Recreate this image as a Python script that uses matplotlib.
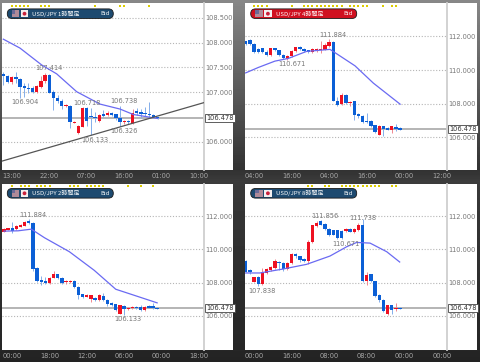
import numpy as np
import matplotlib
matplotlib.use('Agg')
import matplotlib.pyplot as plt
from matplotlib.patches import Rectangle, Circle, FancyBboxPatch

CJK = ['Noto Sans CJK JP', 'DejaVu Sans']

# 1 hour chart
h1_open = [107.37,107.33,107.20,107.30,107.27,107.13,107.09,107.08,107.00,107.11,107.22,107.35,107.00,106.89,106.82,106.72,106.73,106.38,106.17,106.30,106.68,106.51,106.49,106.41,106.55,106.53,106.59,106.55,106.47,106.39,106.41,106.38,106.62,106.61,106.59,106.57,106.53,106.49]
h1_close = [107.32,107.21,107.30,107.27,107.10,107.09,107.06,107.01,107.13,107.22,107.34,106.99,106.89,106.82,106.72,106.74,106.39,106.40,106.32,106.68,106.42,106.49,106.47,106.53,106.52,106.59,106.54,106.47,106.39,106.42,106.39,106.59,106.59,106.57,106.57,106.53,106.49,106.47]
h1_high = [107.40,107.35,107.32,107.40,107.28,107.18,107.18,107.13,107.15,107.33,107.39,107.37,107.05,106.95,106.86,106.76,106.74,106.41,106.34,106.70,106.70,106.68,106.61,106.55,106.64,106.63,106.61,106.57,106.72,106.44,106.44,106.66,106.68,106.66,106.71,106.80,106.57,106.50]
h1_low = [107.15,107.18,107.16,107.18,106.89,106.91,106.98,106.98,106.98,107.08,107.18,106.98,106.64,106.78,106.66,106.70,106.27,106.37,106.16,106.29,106.32,106.14,106.39,106.40,106.49,106.51,106.51,106.44,106.32,106.36,106.36,106.36,106.54,106.47,106.51,106.49,106.47,106.46]
h1_ma_x = [0,4,9.2,12.8,17.6,23.2,28,31.2,37]
h1_ma = [108.07,107.89,107.55,107.37,107.01,106.76,106.66,106.55,106.47]
h1_trend_x = [-0.3,48.16]
h1_trend = [105.61,106.79]
h1_dots = [2,3,4,5,6,9,10,11,22,28,29,35]
h1_yticks = [106,107,107.5,108,108.5]
h1_ylabels = ['106.000','107.000','107.500','108.000','108.500']
h1_xlabels = ['13:00','22:00','07:00','16:00','01:00','10:00']
h1_notes = ['107.414','106.904','106.718','106.738','106.326','106.133']
h1_note_x = [11,5.2,20,29,29,22]
h1_note_y = [107.49,106.80,106.79,106.82,106.22,106.03]

# 4 hour chart
h4_open = [111.70,111.80,111.54,111.27,111.29,111.07,110.87,111.29,111.17,110.91,110.65,110.83,111.11,111.38,111.25,111.17,111.07,111.11,111.17,111.21,111.44,111.66,108.17,107.97,108.54,108.01,108.13,107.37,107.27,106.99,106.99,106.70,106.14,106.66,106.56,106.44,106.62,106.54]
h4_close = [111.56,111.52,111.07,111.07,111.05,110.89,111.29,111.19,110.87,110.71,110.85,111.15,111.36,111.23,111.15,111.07,111.25,111.27,111.25,111.48,111.68,108.17,107.93,108.54,108.01,108.11,107.33,107.27,106.93,106.91,106.68,106.34,106.68,106.48,106.46,106.64,106.48,106.46]
h4_high = [111.75,111.84,111.58,111.31,111.33,111.21,111.33,111.33,111.21,110.97,110.91,111.21,111.40,111.42,111.29,111.21,111.29,111.34,111.70,111.60,111.84,111.72,108.42,108.66,108.58,108.15,108.17,107.43,107.33,107.43,107.03,106.74,106.72,106.68,106.62,106.68,106.81,106.58]
h4_low = [111.50,111.48,111.03,111.03,111.01,110.81,110.85,111.15,110.81,110.65,110.61,110.79,111.07,111.19,111.09,111.03,111.03,111.05,111.01,111.17,111.40,108.13,107.87,107.93,107.97,107.87,107.03,107.13,106.87,106.87,106.62,106.28,106.12,106.10,106.42,106.28,106.40,106.44]
h4_ma_x = [0,3,7,10.2,14.6,20.2,26.2,30.6,37]
h4_ma = [109.83,110.15,110.53,110.69,111.11,111.23,110.25,109.22,107.97]
h4_dots = [2,3,4,5,11,14,15,16,17,18,19,20,21,22,23,25,26,27,28,29,33,35,36]
h4_yticks = [106,108,110,112]
h4_ylabels = ['106.000','108.000','110.000','112.000']
h4_xlabels = ['04:00','16:00','04:00','16:00','00:00','12:00']
h4_notes = ['111.884','110.671']
h4_note_x = [21,11]
h4_note_y = [112.10,110.35]

# 2 hour chart
h2_open = [111.06,111.16,111.28,111.20,111.36,111.42,111.74,111.62,108.86,108.14,108.10,107.96,108.30,108.50,108.28,108.04,108.06,108.10,107.74,107.30,107.16,107.00,107.08,106.96,107.20,106.96,106.78,106.70,106.10,106.62,106.38,106.44,106.54,106.54,106.34,106.60,106.58,106.50]
h2_close = [111.24,111.26,111.10,111.42,111.48,111.66,111.60,108.82,108.10,108.06,108.00,108.30,108.52,108.28,107.98,108.10,108.10,107.72,107.28,107.12,107.28,107.24,106.96,107.24,106.94,106.72,106.64,106.32,106.64,106.38,106.50,106.54,106.44,106.34,106.56,106.48,106.48,106.42]
h2_high = [111.28,111.30,111.66,111.46,111.52,111.70,111.82,111.66,108.94,108.40,108.34,108.34,108.70,108.54,108.32,108.16,108.14,108.14,107.78,107.34,107.32,107.28,107.12,107.30,107.36,107.00,106.82,106.74,106.68,106.66,106.54,106.58,106.58,106.66,106.60,106.64,106.76,106.52]
h2_low = [111.04,111.14,111.00,111.16,111.32,111.38,111.56,108.70,108.04,107.86,107.94,107.92,108.26,108.24,107.94,107.90,108.00,107.68,107.00,107.08,107.12,106.86,106.92,106.92,106.90,106.60,106.60,106.26,106.08,106.06,106.34,106.40,106.40,106.30,106.30,106.44,106.42,106.40]
h2_ma_x = [0,3.4,6.6,9.8,15.8,21.8,27,31.4,37]
h2_ma = [111.10,111.12,111.22,110.70,109.86,108.74,107.60,107.24,106.78]
h2_dots = [2,4,5,6,8,9,10,11,16,17,18,20,21,22,23,24,30,33,36]
h2_yticks = [106,108,110,112]
h2_ylabels = ['106.000','108.000','110.000','112.000']
h2_xlabels = ['00:00','18:00','12:00','06:00','00:00','18:00']
h2_notes = ['111.884','106.133']
h2_note_x = [7,30]
h2_note_y = [112.06,105.80]

# 8 hour chart
h8_open = [109.30,108.74,108.06,108.34,107.90,108.60,108.76,108.88,109.26,109.20,108.84,109.16,109.72,109.58,109.44,109.28,110.46,111.38,111.74,111.52,111.24,111.14,111.14,111.10,111.10,111.22,111.04,111.16,111.44,108.08,108.50,108.08,107.24,106.98,106.10,106.64,106.42,106.50]
h8_close = [108.66,108.62,108.32,107.90,108.64,108.82,108.94,109.28,109.16,108.80,109.20,109.70,109.58,109.34,109.30,110.46,111.44,111.60,111.48,111.24,110.88,110.88,110.68,110.66,111.22,111.06,111.20,111.44,108.10,108.48,108.08,107.20,106.94,106.30,106.64,106.36,106.48,106.42]
h8_high = [109.34,108.80,108.36,108.38,108.86,108.90,109.00,109.40,109.30,109.24,109.24,109.80,109.80,109.62,109.48,110.54,111.50,111.74,111.80,111.58,111.30,111.18,111.18,111.16,111.30,111.26,111.28,111.60,111.84,108.66,108.54,108.12,107.30,107.02,106.68,106.68,106.76,106.52]
h8_low = [108.62,108.54,108.02,107.80,107.86,108.54,108.70,108.82,108.74,108.70,108.74,109.10,109.46,109.26,109.26,109.14,110.40,111.34,111.44,111.18,110.80,110.84,110.64,110.60,111.04,111.02,110.98,111.10,108.06,107.86,108.04,107.14,106.86,106.24,106.06,106.08,106.26,106.40]
h8_ma_x = [0,3.4,9,14.6,20.2,24.2,26.6,29.8,33.8,36.9]
h8_ma = [108.58,108.58,108.82,109.10,109.60,110.16,110.42,110.38,109.86,109.24]
h8_dots = [15,16,19,20,23,24,25,26,27,28,29,30,31,32,35,36]
h8_yticks = [106,108,110,112]
h8_ylabels = ['106.000','108.000','110.000','112.000']
h8_xlabels = ['00:00','16:00','08:00','08:00','00:00','00:00']
h8_notes = ['111.856','111.738','110.671','107.838']
h8_note_x = [19,28,24,4]
h8_note_y = [112.02,111.92,110.32,107.52]

last_price = 106.478
xtick_idx = [2,11,20,29,38,47]

W, H = 480, 362
fig = plt.figure(figsize=(4.8,3.62), dpi=100)

# background and overlay in pixel coords
bg = fig.add_axes([0,0,1,1], zorder=0)
bg.set_xlim(0,W); bg.set_ylim(H,0); bg.axis('off')
shade = np.interp(np.arange(H), [0,60,170,181,200,350,362], [135,105,50,60,55,38,34])
bg.imshow(shade[:,None], cmap='gray', vmin=0, vmax=255, extent=[0,W,H,0], aspect='auto')
over = fig.add_axes([0,0,1,1], zorder=5)
over.set_xlim(0,W); over.set_ylim(H,0); over.axis('off'); over.patch.set_alpha(0)


def panel(px, py, xlim, ylim, o, c, hi, lo, ma_x, ma, dots, yt, yl, xl, notes, nx, ny):
    # white plate runs out to the right of the axis line
    bg.add_patch(Rectangle((px[0],py[0]), px[2]-px[0], py[1]-py[0], fc='white', ec='none'))
    ax = fig.add_axes([px[0]/W, 1-py[1]/H, (px[1]-px[0])/W, (py[1]-py[0])/H], zorder=2)
    ax.patch.set_alpha(0)
    ax.set_xlim(xlim); ax.set_ylim(ylim)
    for s in ['top','left','bottom']:
        ax.spines[s].set_visible(False)
    ax.spines['right'].set_color('#cfcfcf')
    ax.spines['right'].set_linewidth(1.3)
    ax.yaxis.tick_right()
    ax.set_yticks(yt)
    ax.set_yticklabels(yl)
    ax.set_xticks(xtick_idx)
    ax.set_xticklabels(xl)
    ax.tick_params(axis='y', length=0, pad=0.8, labelsize=4.8, labelcolor='#777777')
    ax.tick_params(axis='x', length=0, pad=2.2, labelsize=4.8, labelcolor='#a8a8a8')
    ax.grid(axis='y', color='#b5b5b5', ls=(0,(1,1.6)), lw=0.8)
    ax.set_axisbelow(True)
    idx = np.arange(len(o))
    o = np.array(o); c = np.array(c)
    col = np.where(c >= o, '#ee1122', '#0b5fd6')
    wick = np.where(c >= o, '#f08890', '#84aeea')
    ax.axhline(last_price, color='#a8a8a8', lw=1.2, zorder=1)
    ax.vlines(idx, lo, hi, colors=wick, lw=0.7, zorder=2)
    ax.bar(idx, np.abs(c-o), 0.8, bottom=np.minimum(o,c), color=col, zorder=3)
    ax.plot(ma_x, ma, color='#6a6af2', lw=0.9, zorder=4)
    ax.plot(dots, [0.985]*len(dots), ls='', marker='s', ms=1.5, mew=0, color='#dccc00',
            transform=ax.get_xaxis_transform(), clip_on=False)
    for t, x, y in zip(notes, nx, ny):
        ax.text(x, y, t, ha='center', va='center', fontsize=4.8, color='#777777', zorder=6)
    ax.text(1.01, last_price, '%.3f' % last_price, transform=ax.get_yaxis_transform(), va='center',
            ha='left', fontsize=4.8, color='#333333', zorder=7, clip_on=False,
            bbox=dict(boxstyle='square,pad=0.18', fc='white', ec='#444444', lw=0.6))
    return ax


def pill(x, y, color, title):
    # pill spans 106 px, flags and text placed from its left edge
    over.add_patch(FancyBboxPatch((x,y), 106, 9.6, boxstyle='round,pad=0,rounding_size=4.8',
                                  fc=color, ec='#1a1a1a', lw=0.6))
    over.add_patch(Rectangle((x+4.4,y+1.3), 7.4, 7, fc='#b08a98', ec='none'))
    over.add_patch(Rectangle((x+4.4,y+1.3), 3.5, 3.5, fc='#6a6a98', ec='none'))
    over.add_patch(Rectangle((x+13.4,y+1.3), 7.6, 7, fc='#f4f0f0', ec='none'))
    over.add_patch(Circle((x+17.2,y+4.8), 1.9, fc='#c8203a', ec='none'))
    over.text(x+25, y+5, title, color='white', fontsize=4.3, va='center', family=CJK)
    over.text(x+93, y+5, 'Bid', color='white', fontsize=4.3, va='center', family=CJK)


panel((2,204,233), (3,170), (-0.32,48.16), (105.43,108.80), h1_open, h1_close, h1_high, h1_low,
      h1_ma_x, h1_ma, h1_dots, h1_yticks, h1_ylabels, h1_xlabels, h1_notes, h1_note_x, h1_note_y
      ).plot(h1_trend_x, h1_trend, color='#555555', lw=0.9, zorder=5)
panel((245,447,477), (3,170), (-0.16,48.24), (104.05,113.99), h4_open, h4_close, h4_high, h4_low,
      h4_ma_x, h4_ma, h4_dots, h4_yticks, h4_ylabels, h4_xlabels, h4_notes, h4_note_x, h4_note_y)
panel((2,204,233), (184,350), (-0.48,48.32), (103.94,113.94), h2_open, h2_close, h2_high, h2_low,
      h2_ma_x, h2_ma, h2_dots, h2_yticks, h2_ylabels, h2_xlabels, h2_notes, h2_note_x, h2_note_y)
panel((245,447,477), (184,350), (-0.16,48.24), (103.94,113.94), h8_open, h8_close, h8_high, h8_low,
      h8_ma_x, h8_ma, h8_dots, h8_yticks, h8_ylabels, h8_xlabels, h8_notes, h8_note_x, h8_note_y)

pill(7.3, 8.9, '#1d4a70', 'USD/JPY 1時間足')
pill(250.7, 8.9, '#d01020', 'USD/JPY 4時間足')
pill(7.3, 188.5, '#1d4a70', 'USD/JPY 2時間足')
pill(250.7, 188.5, '#1d4a70', 'USD/JPY 8時間足')

plt.savefig('out.png', dpi=100)
